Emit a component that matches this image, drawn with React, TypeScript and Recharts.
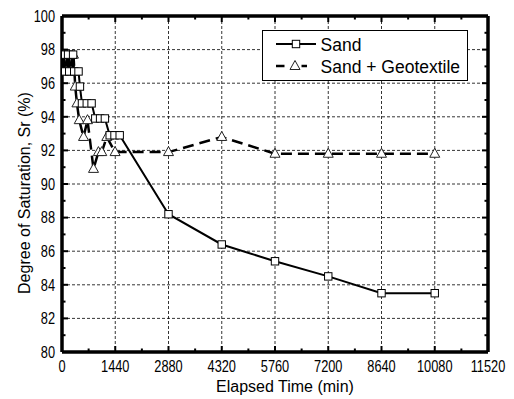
import React from 'react';
import { LineChart, Line, XAxis, YAxis, CartesianGrid, Label } from 'recharts';

// ---- data ----
const sandTime = [30, 60, 165, 195, 300, 330, 447, 485, 540, 670, 800, 900, 1030, 1160, 1290, 1420, 1560, 2880, 4320, 5760, 7200, 8640, 10080];
const sandSr = [97.7, 96.7, 97.7, 96.7, 97.7, 96.7, 96.7, 95.8, 94.8, 94.8, 94.8, 93.9, 93.9, 93.9, 92.9, 92.9, 92.9, 88.2, 86.4, 85.4, 84.5, 83.5, 83.5];
const geoTime = [45, 110, 180, 245, 310, 358, 404, 466, 582, 690, 852, 985, 1076, 1211, 1435, 2880, 4320, 5760, 7200, 8640, 10080];
const geoSr = [97.7, 96.7, 97.7, 96.7, 97.7, 95.8, 94.8, 93.8, 92.8, 93.8, 90.9, 91.9, 91.9, 92.8, 91.9, 91.9, 92.8, 91.8, 91.8, 91.8, 91.8];

const xMajorTicks = [0, 1440, 2880, 4320, 5760, 7200, 8640, 10080, 11520];
const xMinorTicks = [720, 2160, 3600, 5040, 6480, 7920, 9360, 10800];
const yMajorTicks = [80, 82, 84, 86, 88, 90, 92, 94, 96, 98, 100];
const yMinorTicks = [81, 83, 85, 87, 89, 91, 93, 95, 97, 99];

const seriesNames = ['Sand', 'Sand + Geotextile'];
const xTitle = 'Elapsed Time (min)';
const yTitle = 'Degree of Saturation, Sr (%)';

const sandData = sandTime.map((t, i) => ({ t, sr: sandSr[i] }));
const geoData = geoTime.map((t, i) => ({ t, sr: geoSr[i] }));
const xAllTicks = [...xMajorTicks, ...xMinorTicks].sort((a, b) => a - b);
const yAllTicks = [...yMajorTicks, ...yMinorTicks].sort((a, b) => a - b);

const FONT = '"Liberation Sans", Arial, sans-serif';
const MAJ = 6;
const MIN = 3.5;
const TW = 2;

const isXMajor = (v: number) => xMajorTicks.includes(v);
const isYMajor = (v: number) => yMajorTicks.includes(v);

const BottomTick = (p: any) => {
  const { x, y, payload } = p;
  const major = isXMajor(payload.value);
  return (
    <g>
      <line x1={x} y1={y} x2={x} y2={y - (major ? MAJ : MIN)} stroke="#000" strokeWidth={TW} />
      {major && (
        <text transform={`translate(${x},${y + 19.5}) scale(0.8,1)`} textAnchor="middle" fontSize={16} fontFamily={FONT} fill="#000">
          {payload.value}
        </text>
      )}
    </g>
  );
};

const TopTick = (p: any) => {
  const { x, y, payload } = p;
  const major = isXMajor(payload.value);
  return <line x1={x} y1={y} x2={x} y2={y + (major ? MAJ : MIN)} stroke="#000" strokeWidth={TW} />;
};

const LeftTick = (p: any) => {
  const { x, y, payload } = p;
  const major = isYMajor(payload.value);
  return (
    <g>
      <line x1={x} y1={y} x2={x + (major ? MAJ : MIN)} y2={y} stroke="#000" strokeWidth={TW} />
      {major && (
        <text transform={`translate(${x - 7},${y + 5.7}) scale(0.8,1)`} textAnchor="end" fontSize={16} fontFamily={FONT} fill="#000">
          {payload.value}
        </text>
      )}
    </g>
  );
};

const RightTick = (p: any) => {
  const { x, y, payload } = p;
  const major = isYMajor(payload.value);
  return <line x1={x} y1={y} x2={x - (major ? MAJ : MIN)} y2={y} stroke="#000" strokeWidth={TW} />;
};

const SquareDot = (p: any) => {
  const { cx, cy, index } = p;
  if (cx == null || cy == null) return <g key={`s${index}`} />;
  return <rect key={`s${index}`} x={cx - 3.7} y={cy - 3.7} width={7.4} height={7.4} fill="#fff" stroke="#000" strokeWidth={1} />;
};

const TriDot = (p: any) => {
  const { cx, cy, index } = p;
  if (cx == null || cy == null) return <g key={`t${index}`} />;
  return (
    <polygon
      key={`t${index}`}
      points={`${cx},${cy - 5.5} ${cx - 5},${cy + 3.5} ${cx + 5},${cy + 3.5}`}
      fill="#fff"
      stroke="#222"
      strokeWidth={1}
    />
  );
};

const axisLine = { stroke: '#000', strokeWidth: 3.5 };

export default function App() {
  return (
    <div style={{ position: 'absolute', left: 0, top: 0, width: 514, height: 399, background: '#fff' }}>
      <LineChart width={514} height={399} margin={{ top: 0, right: 0, bottom: 0, left: 0 }}>
        <CartesianGrid
          xAxisId="b"
          yAxisId="l"
          horizontalValues={yMajorTicks}
          verticalValues={xMajorTicks}
          stroke="#000"
          strokeDasharray="3 2"
          strokeWidth={0.8}
        />
        <XAxis
          xAxisId="b"
          dataKey="t"
          type="number"
          domain={[0, 11520]}
          ticks={xAllTicks}
          interval={0}
          height={47}
          tickSize={0}
          tickMargin={0}
          tickLine={false}
          axisLine={axisLine}
          tick={<BottomTick />}
          allowDataOverflow
        >
          <Label
            content={() => (
              <text x={285} y={392} textAnchor="middle" fontSize={16} fontFamily={FONT} fill="#000">
                {xTitle}
              </text>
            )}
          />
        </XAxis>
        <XAxis
          xAxisId="top"
          orientation="top"
          dataKey="t"
          type="number"
          domain={[0, 11520]}
          ticks={xAllTicks}
          interval={0}
          height={16}
          tickSize={0}
          tickMargin={0}
          tickLine={false}
          axisLine={axisLine}
          tick={<TopTick />}
          allowDataOverflow
        />
        <YAxis
          yAxisId="l"
          type="number"
          domain={[80, 100]}
          ticks={yAllTicks}
          interval={0}
          width={62}
          tickSize={0}
          tickMargin={0}
          tickLine={false}
          axisLine={axisLine}
          tick={<LeftTick />}
          allowDataOverflow
        >
          <Label
            content={() => (
              <text
                transform={`translate(29.5,193) rotate(-90)`}
                textAnchor="middle"
                fontSize={16}
                fontFamily={FONT}
                fill="#000"
              >
                {yTitle}
              </text>
            )}
          />
        </YAxis>
        <YAxis
          yAxisId="r"
          orientation="right"
          type="number"
          domain={[80, 100]}
          ticks={yAllTicks}
          interval={0}
          width={26}
          tickSize={0}
          tickMargin={0}
          tickLine={false}
          axisLine={axisLine}
          tick={<RightTick />}
          allowDataOverflow
        />
        <Line
          xAxisId="b"
          yAxisId="l"
          data={geoData}
          dataKey="sr"
          name={seriesNames[1]}
          stroke="#000"
          strokeWidth={2.5}
          strokeDasharray="11 6"
          dot={TriDot}
          isAnimationActive={false}
        />
        <Line
          xAxisId="b"
          yAxisId="l"
          data={sandData}
          dataKey="sr"
          name={seriesNames[0]}
          stroke="#000"
          strokeWidth={2}
          dot={SquareDot}
          isAnimationActive={false}
        />
      </LineChart>
      <svg width={514} height={399} style={{ position: 'absolute', left: 0, top: 0, pointerEvents: 'none' }}>
        <rect x={262.5} y={30.5} width={205} height={50} fill="#fff" stroke="#000" strokeWidth={1} />
        <line x1={276} y1={44} x2={316} y2={44} stroke="#000" strokeWidth={2} />
        <rect x={292.3} y={40.3} width={7.4} height={7.4} fill="#fff" stroke="#000" strokeWidth={1} />
        <text x={320.5} y={50.7} fontSize={17.5} fontFamily={FONT} fill="#000">{seriesNames[0]}</text>
        <line x1={276} y1={66} x2={284.5} y2={66} stroke="#000" strokeWidth={2.5} />
        <line x1={301.5} y1={66} x2={307} y2={66} stroke="#000" strokeWidth={2.5} />
        <polygon points="295,60.5 290,69.5 300,69.5" fill="#fff" stroke="#222" strokeWidth={1} />
        <text x={320.5} y={73.3} fontSize={17.5} fontFamily={FONT} fill="#000">{seriesNames[1]}</text>
      </svg>
    </div>
  );
}
